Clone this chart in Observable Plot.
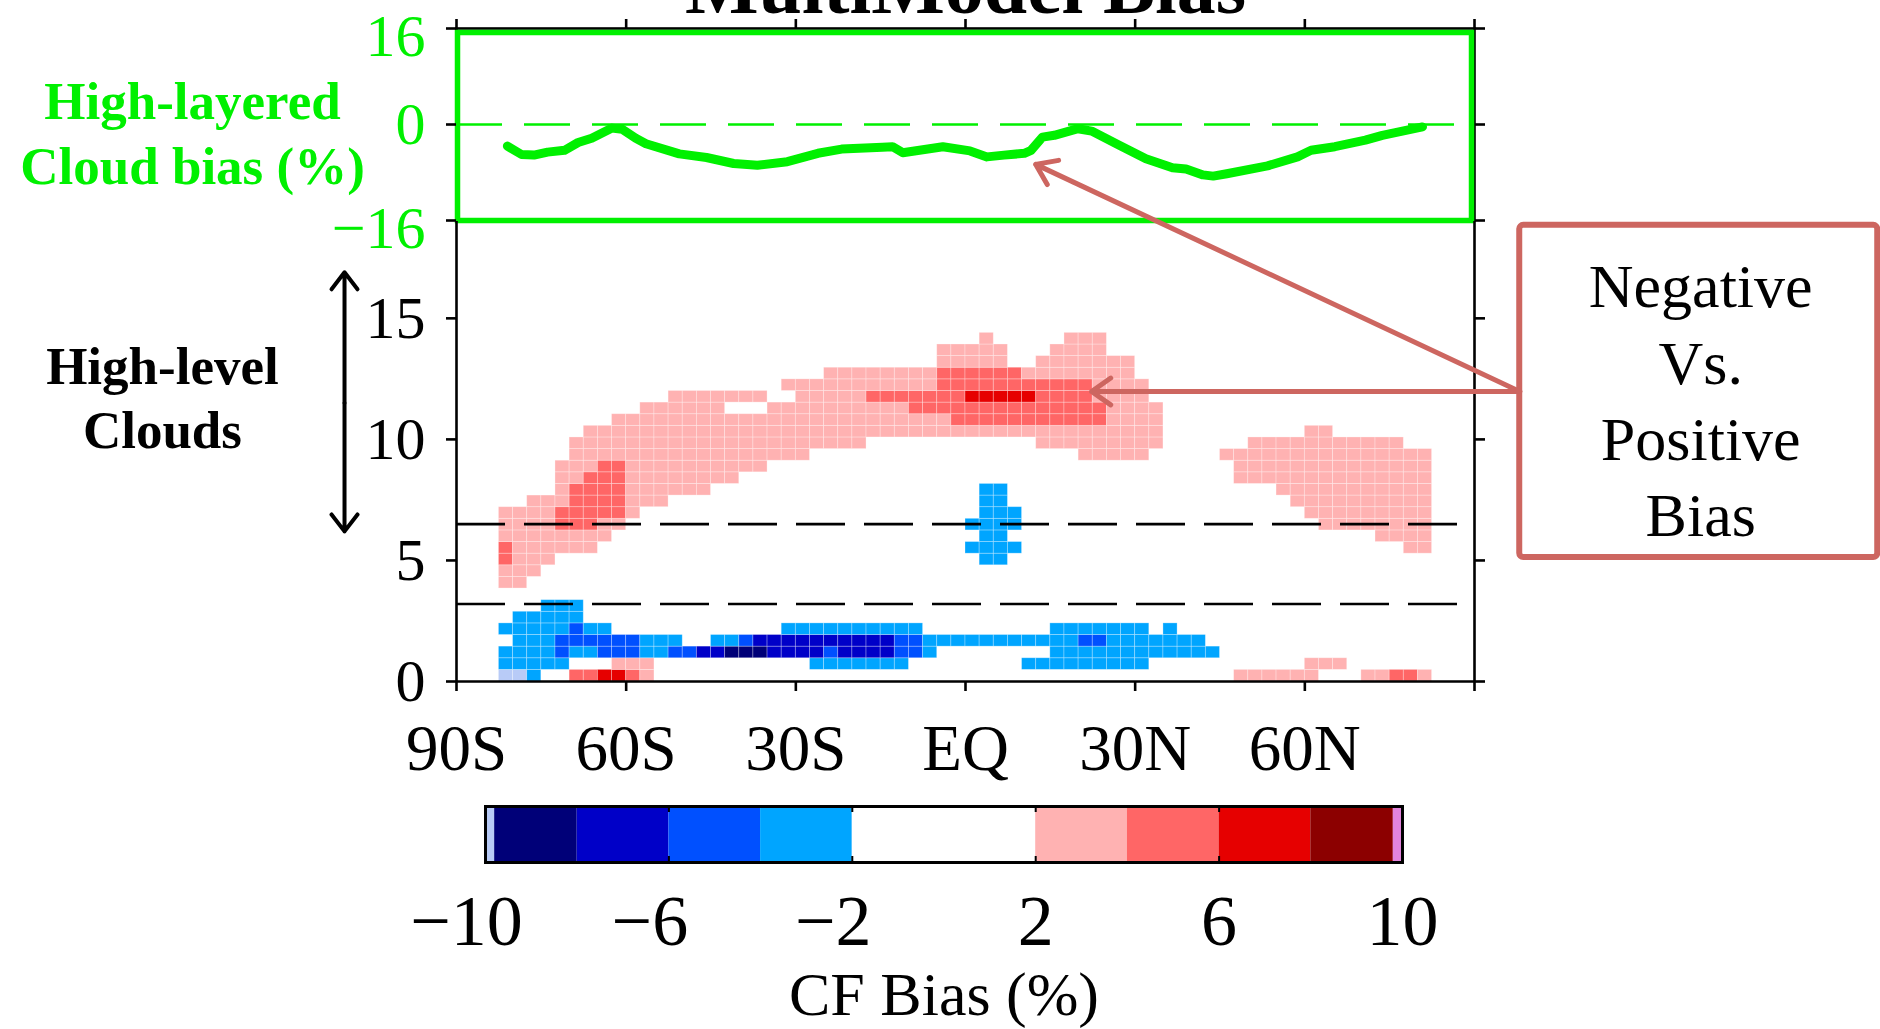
<!DOCTYPE html>
<html><head><meta charset="utf-8">
<script src="https://cdn.jsdelivr.net/npm/d3@7"></script>
<script src="https://cdn.jsdelivr.net/npm/@observablehq/plot@0.6"></script>
<style>
html,body{margin:0;padding:0;background:#fff;overflow:hidden;}
#fig{position:relative;width:1880px;height:1029px;overflow:hidden;}
#fig svg{position:absolute;left:0;top:0;background:transparent;overflow:visible;}
</style></head>
<body><div id="fig"></div>
<script>
// ---------- data ----------
const latTicks = [-90, -60, -30, 0, 30, 60, 90];
const latTickLabels = ["90S", "60S", "30S", "EQ", "30N", "60N", ""];
const heightTicks = [0, 5, 10, 15];
const biasTicks = [16, 0, -16];
const layerBounds = [6.5, 3.2];

// zonal high-layered cloud bias (%)
const highLat  = [-81, -78.5, -76.3, -73.9, -70.9, -68.5, -66.1, -62.5, -60.7, -58.3, -56.5, -50.6, -45.8, -41.0, -36.8, -31.5, -26.1, -21.9, -14.7, -12.9, -11.1, -4.0, 0.8, 3.8, 6.8, 10.4, 11.6, 13.6, 15.7, 19.9, 22.3, 27.1, 31.9, 36.6, 39.0, 42.0, 43.8, 46.2, 53.4, 58.7, 61.1, 65.3, 70.7, 73.7, 80.8];
const highBias = [-3.6, -5.0, -5.1, -4.6, -4.3, -3.0, -2.3, -0.6, -0.8, -2.3, -3.2, -4.9, -5.5, -6.5, -6.8, -6.2, -4.8, -4.1, -3.8, -3.7, -4.7, -3.7, -4.4, -5.4, -5.1, -4.8, -4.3, -2.1, -1.8, -0.7, -1.1, -3.4, -5.7, -7.2, -7.4, -8.4, -8.6, -8.2, -6.9, -5.4, -4.3, -3.7, -2.6, -1.8, -0.4];

// CF bias bins
const cfThresholds = [-10, -8, -6, -4, -2, 2, 4, 6, 8, 10];
const cfColors = ["#b8cbf7", "#000078", "#0000c8", "#0050ff", "#00a5ff", "#ffffff", "#ffb2b2", "#ff6666", "#e60000", "#8c0000", "#e284dc"];
const binCodes  = ["l", "d", "c", "b", "a", "p", "r", "R"];
const binValues = [-11, -9, -7, -5, -3, 3, 5, 7];
const cbTicks = [-10, -6, -2, 2, 6, 10];
const cbEdges = [-10, -9.8, -8, -6, -4, -2, 2, 4, 6, 8, 9.8, 10];

// grid: 2.5 deg latitude columns from 82.5S, 0.48 km levels
const latStart = -82.5, latStep = 2.5, levelStep = 0.48;
// [level row, first column, last column, bin code]
const cellRuns = [
  [0,0,1,"l"],[0,2,2,"a"],[0,5,6,"r"],[0,7,8,"R"],[0,9,9,"r"],[0,10,10,"p"],[0,52,57,"p"],[0,61,62,"p"],[0,63,64,"r"],[0,65,65,"p"],
  [1,0,4,"a"],[1,8,10,"p"],[1,22,28,"a"],[1,37,45,"a"],[1,57,59,"p"],
  [2,0,3,"a"],[2,4,4,"b"],[2,5,6,"a"],[2,7,9,"b"],[2,10,11,"a"],[2,12,13,"b"],[2,14,15,"c"],[2,16,18,"d"],[2,19,22,"c"],[2,23,23,"b"],[2,24,27,"c"],[2,28,29,"b"],[2,30,30,"a"],[2,39,50,"a"],
  [3,1,3,"a"],[3,4,9,"b"],[3,10,12,"a"],[3,15,16,"a"],[3,17,17,"b"],[3,18,27,"c"],[3,28,29,"b"],[3,30,40,"a"],[3,41,42,"b"],[3,43,49,"a"],
  [4,0,4,"a"],[4,5,5,"b"],[4,6,7,"a"],[4,20,29,"a"],[4,39,45,"a"],[4,47,47,"a"],
  [5,1,5,"a"],
  [6,3,5,"a"],
  [8,0,1,"p"],
  [9,0,2,"p"],
  [10,0,0,"r"],[10,1,3,"p"],[10,34,35,"a"],
  [11,0,0,"r"],[11,1,6,"p"],[11,33,36,"a"],[11,64,65,"p"],
  [12,0,7,"p"],[12,34,35,"a"],[12,62,65,"p"],
  [13,0,3,"p"],[13,4,6,"r"],[13,7,8,"p"],[13,33,36,"a"],[13,58,65,"p"],
  [14,0,3,"p"],[14,4,8,"r"],[14,9,9,"p"],[14,34,36,"a"],[14,57,65,"p"],
  [15,2,4,"p"],[15,5,8,"r"],[15,9,11,"p"],[15,34,35,"a"],[15,56,65,"p"],
  [16,4,4,"p"],[16,5,8,"r"],[16,9,14,"p"],[16,34,35,"a"],[16,55,65,"p"],
  [17,4,5,"p"],[17,6,8,"r"],[17,9,16,"p"],[17,52,65,"p"],
  [18,4,6,"p"],[18,7,8,"r"],[18,9,18,"p"],[18,52,65,"p"],
  [19,5,21,"p"],[19,41,45,"p"],[19,51,65,"p"],
  [20,5,25,"p"],[20,38,46,"p"],[20,53,63,"p"],
  [21,6,46,"p"],[21,57,58,"p"],
  [22,8,31,"p"],[22,32,42,"r"],[22,43,46,"p"],
  [23,10,15,"p"],[23,19,28,"p"],[23,29,42,"r"],[23,43,46,"p"],
  [24,12,18,"p"],[24,21,25,"p"],[24,26,32,"r"],[24,33,37,"R"],[24,38,41,"r"],[24,42,45,"p"],
  [25,20,30,"p"],[25,31,41,"r"],[25,42,45,"p"],
  [26,23,30,"p"],[26,31,36,"r"],[26,37,44,"p"],
  [27,31,35,"p"],[27,38,44,"p"],
  [28,31,35,"p"],[28,39,42,"p"],
  [29,34,34,"p"],[29,40,42,"p"]
];

// annotation anchors (in latitude / km units of the main panel)
const levelArrow = [{lat: -109.8, z1: 11.5, z2: 16.9}, {lat: -109.8, z1: 11.5, z2: 6.2}];
const levelText = [{lat: -142, z: 11.8, t: "High-level\nClouds"}];
const noteBox = [{lat1: 98, lat2: 161.3, z1: 5.12, z2: 18.84}];
const noteText = [{lat: 130, z: 11.74, t: "Negative\nVs.\nPositive\nBias"}];
const pointers = [{lat1: 98, z1: 11.98, lat2: 22.3, z2: 11.98}, {lat1: 98, z1: 11.98, lat2: 12.4, z2: 21.36}];

// ---------- build ----------
const GREEN = "#00f000";
const NOTE = "#cd6660";
const FONT = '"Liberation Serif","Times New Roman",serif';
const figEl = document.getElementById("fig");

const highData = highLat.map((lat, i) => ({lat, val: highBias[i]}));
const cells = [];
for (const [row, c0, c1, code] of cellRuns) {
  const v = binValues[binCodes.indexOf(code)];
  for (let c = c0; c <= c1; c++) {
    cells.push({lat1: latStart + latStep * c, lat2: latStart + latStep * (c + 1), z1: levelStep * row, z2: levelStep * (row + 1), v});
  }
}

// top panel
const topPanel = Plot.plot({
  width: 1880, height: 240,
  marginLeft: 456, marginRight: 406, marginTop: 28, marginBottom: 20,
  x: {domain: [-90, 90]}, y: {domain: [-16, 16]},
  style: {fontFamily: FONT, background: "transparent", overflow: "visible"},
  marks: [
    Plot.frame({stroke: "black", strokeWidth: 2.6}),
    Plot.ruleY([0], {stroke: GREEN, strokeWidth: 2.6, strokeDasharray: "46,22"}),
    Plot.line(highData, {x: "lat", y: "val", stroke: GREEN, strokeWidth: 9, strokeLinejoin: "round"}),
    Plot.frame({stroke: GREEN, strokeWidth: 5.5, insetTop: 4, insetLeft: 1, insetRight: 3}),
    Plot.axisX({anchor: "top", ticks: latTicks, tickSize: 10, tickFormat: () => "", label: null, strokeWidth: 2.6}),
    Plot.axisY({anchor: "left", ticks: biasTicks, tickSize: 10, tickFormat: () => "", label: null, strokeWidth: 2.6}),
    Plot.axisY({anchor: "right", ticks: biasTicks, tickSize: 10, tickFormat: () => "", label: null, strokeWidth: 2.6}),
    Plot.text(biasTicks.filter(d => d === 0), {y: d => d, text: d => String(d), frameAnchor: "left", textAnchor: "end", dx: -31, fill: GREEN, fontSize: 60}),
    Plot.text(biasTicks.filter(d => d !== 0), {y: d => d, text: d => d < 0 ? "\u2212" + Math.abs(d) : String(d), frameAnchor: "left", textAnchor: "end", dx: -31, dy: 8, fill: GREEN, fontSize: 60}),
    Plot.text(["MultiModel Bias"], {text: d => d, frameAnchor: "top", lineAnchor: "bottom", dy: -16, fontSize: 78, fontWeight: "bold"}),
    Plot.text(["High-layered\nCloud bias (%)"], {text: d => d, frameAnchor: "left", textAnchor: "middle", dx: -264, dy: 6.5, fill: GREEN, fontWeight: "bold", fontSize: 53, lineHeight: 1.23})
  ]
});
figEl.appendChild(topPanel);

// main panel
const mainPanel = Plot.plot({
  width: 1880, height: 790,
  marginLeft: 456, marginRight: 406, marginTop: 221, marginBottom: 109,
  x: {domain: [-90, 90]}, y: {domain: [0, 19]},
  color: {type: "threshold", domain: cfThresholds, range: cfColors},
  style: {fontFamily: FONT, background: "transparent", overflow: "visible"},
  marks: [
    Plot.rect(cells, {x1: "lat1", x2: "lat2", y1: "z1", y2: "z2", fill: "v", stroke: "white", strokeOpacity: 0.35, strokeWidth: 0.8}),
    Plot.ruleY(layerBounds, {stroke: "black", strokeWidth: 2.6, strokeDasharray: "49,19"}),
    Plot.ruleX([-90, 90], {stroke: "black", strokeWidth: 2.6}),
    Plot.ruleY([0], {stroke: "black", strokeWidth: 2.6}),
    Plot.axisX({anchor: "bottom", ticks: latTicks, tickFormat: d => latTickLabels[latTicks.indexOf(d)], tickSize: 10, tickPadding: 32, fontSize: 65, label: null, strokeWidth: 2.6}),
    Plot.axisY({anchor: "left", ticks: heightTicks, tickSize: 10, tickPadding: 21, fontSize: 60, label: null, strokeWidth: 2.6}),
    Plot.axisY({anchor: "right", ticks: heightTicks, tickSize: 10, tickFormat: () => "", label: null, strokeWidth: 2.6}),
    Plot.arrow(levelArrow, {x1: "lat", x2: "lat", y1: "z1", y2: "z2", stroke: "black", strokeWidth: 4, headLength: 8, headAngle: 75}),
    Plot.text(levelText, {x: "lat", y: "z", text: "t", fontWeight: "bold", fontSize: 53, lineHeight: 1.21}),
    Plot.rect(noteBox, {x1: "lat1", x2: "lat2", y1: "z1", y2: "z2", fill: "white", stroke: NOTE, strokeWidth: 6, rx: 4}),
    Plot.text(noteText, {x: "lat", y: "z", text: "t", fontSize: 62, lineHeight: 1.23}),
    Plot.arrow(pointers, {x1: "lat1", y1: "z1", x2: "lat2", y2: "z2", stroke: NOTE, strokeWidth: 5, headLength: 7, headAngle: 70})
  ]
});
figEl.appendChild(mainPanel);

// colour bar
const cbBins = cbEdges.slice(0, -1).map((e, i) => ({x1: e, x2: cbEdges[i + 1], col: cfColors[i]}));
const cbPanel = Plot.plot({
  width: 1880, height: 239,
  marginLeft: 485, marginRight: 478, marginTop: 16, marginBottom: 167,
  x: {domain: [-10, 10], axis: null},
  color: {type: "identity"},
  style: {fontFamily: FONT, background: "transparent", overflow: "visible"},
  marks: [
    Plot.rect(cbBins, {x1: "x1", x2: "x2", fill: "col"}),
    Plot.ruleX(cbTicks.slice(1, -1), {stroke: "black", strokeWidth: 2, insetBottom: 50}),
    Plot.ruleX(cbTicks.slice(1, -1), {stroke: "black", strokeWidth: 2, insetTop: 50}),
    Plot.frame({stroke: "black", strokeWidth: 3}),
    Plot.text(cbTicks.filter(d => d < 0), {x: d => d, text: d => "\u2212" + Math.abs(d), frameAnchor: "bottom", lineAnchor: "bottom", dy: 82, dx: -19, fontSize: 72}),
    Plot.text(cbTicks.filter(d => d > 0), {x: d => d, text: d => String(d), frameAnchor: "bottom", lineAnchor: "bottom", dy: 82, fontSize: 72}),
    Plot.text(["CF Bias (%)"], {text: d => d, frameAnchor: "bottom", lineAnchor: "bottom", dy: 152, fontSize: 62})
  ]
});
cbPanel.style.top = "790px";
figEl.appendChild(cbPanel);
</script>
</body></html>
